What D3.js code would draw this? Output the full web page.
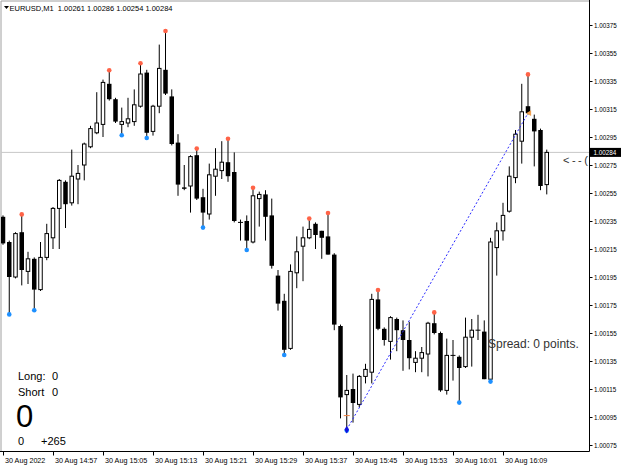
<!DOCTYPE html>
<html lang="en">
<head>
<meta charset="UTF-8">
<title>EURUSD,M1</title>
<script src="https://d3js.org/d3.v7.min.js"></script>
<style>
    body { margin: 0; background: #fff; }
    svg { display: block; font-family: "Liberation Sans", Arial, sans-serif; }
</style>
</head>
<body>
<script>

    // OHLC of the M1 bars, 30 Aug 2022 14:49 .. 16:16
    const opens = [1.00238,1.00220,1.00195,1.00227,1.00199,1.00208,1.00186,1.00209,1.00223,1.00244,
        1.00263,1.00248,1.00265,1.00275,1.00288,1.00298,1.00304,1.00333,1.00322,1.00304,
        1.00305,1.00306,1.00317,1.00341,1.00299,1.00317,1.00343,1.00324,1.00291,1.00259,
        1.00260,1.00282,1.00252,1.00240,1.00267,1.00271,1.00277,1.00270,1.00234,1.00235,
        1.00220,1.00251,1.00254,1.00239,1.00196,1.00178,1.00144,1.00198,1.00217,1.00223,
        1.00233,1.00228,1.00224,1.00211,1.00160,1.00111,1.00115,1.00104,1.00124,1.00127,
        1.00179,1.00158,1.00149,1.00165,1.00157,1.00150,1.00134,1.00137,1.00140,1.00162,
        1.00155,1.00114,1.00139,1.00138,1.00131,1.00152,1.00157,1.00156,1.00122,1.00216,
        1.00228,1.00242,1.00266,1.00292,1.00317,1.00308,1.00300,1.00261];
    const highs = [1.00239,1.00221,1.00227,1.00239,1.00213,1.00209,1.00220,1.00233,1.00245,1.00265,
        1.00264,1.00286,1.00275,1.00291,1.00303,1.00327,1.00336,1.00342,1.00323,1.00316,
        1.00323,1.00329,1.00347,1.00343,1.00318,1.00361,1.00370,1.00329,1.00297,1.00275,
        1.00282,1.00286,1.00258,1.00276,1.00287,1.00292,1.00293,1.00284,1.00236,1.00239,
        1.00258,1.00256,1.00257,1.00251,1.00200,1.00183,1.00204,1.00224,1.00231,1.00236,
        1.00234,1.00228,1.00240,1.00212,1.00161,1.00125,1.00126,1.00125,1.00133,1.00183,
        1.00185,1.00159,1.00167,1.00166,1.00164,1.00163,1.00142,1.00145,1.00163,1.00169,
        1.00156,1.00151,1.00150,1.00139,1.00166,1.00165,1.00168,1.00164,1.00223,1.00234,
        1.00248,1.00274,1.00300,1.00333,1.00339,1.00311,1.00301,1.00286];
    const lows = [1.00218,1.00169,1.00194,1.00189,1.00190,1.00172,1.00185,1.00207,1.00215,1.00215,
        1.00230,1.00246,1.00247,1.00264,1.00287,1.00297,1.00295,1.00321,1.00305,1.00297,
        1.00302,1.00303,1.00316,1.00295,1.00296,1.00312,1.00325,1.00289,1.00253,1.00257,
        1.00241,1.00250,1.00231,1.00236,1.00253,1.00265,1.00263,1.00234,1.00221,1.00215,
        1.00219,1.00231,1.00221,1.00201,1.00171,1.00140,1.00143,1.00187,1.00192,1.00222,
        1.00215,1.00208,1.00211,1.00157,1.00094,1.00086,1.00091,1.00102,1.00119,1.00119,
        1.00157,1.00146,1.00136,1.00142,1.00128,1.00129,1.00127,1.00127,1.00124,1.00154,
        1.00113,1.00111,1.00121,1.00106,1.00130,1.00131,1.00150,1.00122,1.00121,1.00196,
        1.00221,1.00241,1.00262,1.00276,1.00311,1.00274,1.00257,1.00254];
    const closes = [1.00219,1.00195,1.00226,1.00200,1.00208,1.00186,1.00209,1.00226,1.00244,1.00264,
        1.00247,1.00267,1.00269,1.00290,1.00301,1.00305,1.00334,1.00322,1.00306,1.00306,
        1.00308,1.00318,1.00340,1.00298,1.00317,1.00344,1.00326,1.00290,1.00261,1.00258,
        1.00281,1.00251,1.00241,1.00268,1.00272,1.00277,1.00267,1.00235,1.00234,1.00221,
        1.00253,1.00254,1.00238,1.00203,1.00176,1.00143,1.00199,1.00213,1.00223,1.00229,
        1.00225,1.00223,1.00211,1.00161,1.00109,1.00114,1.00105,1.00124,1.00129,1.00179,
        1.00158,1.00150,1.00166,1.00157,1.00150,1.00137,1.00137,1.00141,1.00162,1.00155,
        1.00114,1.00139,1.00139,1.00130,1.00152,1.00157,1.00157,1.00122,1.00220,1.00228,
        1.00239,1.00267,1.00297,1.00313,1.00312,1.00299,1.00260,1.00284];

    // fractal markers (bar indexes)
    const fractalUp = [3, 17, 22, 26, 31, 36, 40, 49, 52, 60, 69, 84];
    const fractalDown = [1, 5, 19, 23, 32, 39, 45, 55, 73, 78];

    // trade: open at bar 55, closed at bar 84
    const tradeBars = [55, 84];
    const tradePrices = [1.00086, 1.00312];
    const tradeStop = 1.00096;

    const priceTicks = [1.00075, 1.00095, 1.00115, 1.00135, 1.00155, 1.00175, 1.00195, 1.00215,
        1.00235, 1.00255, 1.00275, 1.00295, 1.00315, 1.00335, 1.00355, 1.00375];
    const timeTickBars = [0, 8, 16, 24, 32, 40, 48, 56, 64, 72, 80];
    const timeTickLabels = ["30 Aug 2022", "30 Aug 14:57", "30 Aug 15:05", "30 Aug 15:13", "30 Aug 15:21",
        "30 Aug 15:29", "30 Aug 15:37", "30 Aug 15:45", "30 Aug 15:53", "30 Aug 16:01", "30 Aug 16:09"];

    const bid = 1.00284;

    let width = 625;
    let height = 469;
    let plotRight = 589.5;
    let plotBottom = 451.5;

    let svg = d3.select("body").append("svg")
        .attr("width", width)
        .attr("height", height);

    svg.append("rect").attr("width", width).attr("height", height).attr("fill", "#fff");

    let x = d3.scaleLinear().domain([0, opens.length - 1]).range([3, 3 + 6.25 * (opens.length - 1)]);
    let y = d3.scaleLinear().domain([1.00075, 1.00375]).range([445, 25]);

    let defs = svg.append("defs");
    defs.append("clipPath").attr("id", "plot")
        .append("rect").attr("x", 1).attr("y", 1).attr("width", plotRight - 1).attr("height", plotBottom - 1);

    // window border
    svg.append("path")
        .attr("d", `M1,${plotBottom} V1 H${plotRight}`)
        .attr("fill", "none")
        .attr("stroke", "#a0a0a0");

    let plot = svg.append("g").attr("clip-path", "url(#plot)");

    // bid line
    plot.append("line")
        .attr("x1", 0).attr("x2", plotRight)
        .attr("y1", y(bid)).attr("y2", y(bid))
        .attr("stroke", "#c8c8c8");

    let bars = d3.range(opens.length);

    // wicks
    plot.append("g")
        .selectAll("line")
        .data(bars)
        .enter()
        .append("line")
        .attr("x1", i => x(i)).attr("x2", i => x(i))
        .attr("y1", i => y(highs[i])).attr("y2", i => y(lows[i]))
        .attr("stroke", "#000")
        .attr("stroke-width", 1);

    // bodies
    plot.append("g")
        .selectAll("rect")
        .data(bars.filter(i => opens[i] !== closes[i]))
        .enter()
        .append("rect")
        .attr("x", i => closes[i] > opens[i] ? x(i) - 1.75 : x(i) - 2.25)
        .attr("width", i => closes[i] > opens[i] ? 3.5 : 4.5)
        .attr("y", i => y(Math.max(opens[i], closes[i])))
        .attr("height", i => Math.max(1, Math.abs(y(opens[i]) - y(closes[i]))))
        .attr("fill", i => closes[i] > opens[i] ? "#fff" : "#000")
        .attr("stroke", i => closes[i] > opens[i] ? "#000" : "none")
        .attr("stroke-width", 1);

    // doji
    plot.append("g")
        .selectAll("line")
        .data(bars.filter(i => opens[i] === closes[i]))
        .enter()
        .append("line")
        .attr("x1", i => x(i) - 2.5).attr("x2", i => x(i) + 2.5)
        .attr("y1", i => y(opens[i])).attr("y2", i => y(opens[i]))
        .attr("stroke", "#000");

    // fractals
    plot.append("g")
        .selectAll("circle")
        .data(fractalUp)
        .enter()
        .append("circle")
        .attr("cx", i => x(i))
        .attr("cy", i => y(highs[i]) - 1)
        .attr("r", 2.3)
        .attr("fill", "#ff6347");

    plot.append("g")
        .selectAll("circle")
        .data(fractalDown)
        .enter()
        .append("circle")
        .attr("cx", i => x(i))
        .attr("cy", i => y(lows[i]) + 1)
        .attr("r", 2.3)
        .attr("fill", "#1e90ff");

    // trade line
    plot.append("line")
        .attr("x1", x(tradeBars[0])).attr("y1", y(tradePrices[0]))
        .attr("x2", x(tradeBars[1])).attr("y2", y(tradePrices[1]))
        .attr("stroke", "#2b2bff")
        .attr("stroke-width", 1)
        .attr("stroke-dasharray", "2,2");

    plot.append("line")
        .attr("x1", x(tradeBars[0]) - 3).attr("x2", x(tradeBars[0]) + 3)
        .attr("y1", y(tradeStop)).attr("y2", y(tradeStop))
        .attr("stroke", "#f08040");

    plot.append("path")
        .attr("d", d3.symbol(d3.symbolDiamond, 18)())
        .attr("transform", `translate(${x(tradeBars[0])},${y(tradePrices[0])})`)
        .attr("fill", "#1010e0");

    plot.append("path")
        .attr("d", d3.symbol(d3.symbolTriangle, 14)())
        .attr("transform", `translate(${x(tradeBars[1]) + 1.5},${y(tradePrices[1])}) rotate(-90)`)
        .attr("fill", "#f0a050");

    // texts inside the chart
    plot.append("text")
        .attr("x", 563).attr("y", y(bid) + 11.5)
        .attr("font-size", "11px")
        .attr("letter-spacing", "2.5px")
        .attr("fill", "#333")
        .text("<--(");

    svg.append("text")
        .attr("x", 488).attr("y", 348)
        .attr("font-size", "12px")
        .attr("fill", "#333")
        .text("Spread: 0 points.");

    let info = svg.append("g").attr("fill", "#000");
    info.append("text").attr("x", 18).attr("y", 380).attr("font-size", "11px").text("Long:");
    info.append("text").attr("x", 52).attr("y", 380).attr("font-size", "11px").text("0");
    info.append("text").attr("x", 18).attr("y", 396).attr("font-size", "11px").text("Short");
    info.append("text").attr("x", 52).attr("y", 396).attr("font-size", "11px").text("0");
    info.append("text").attr("x", 16).attr("y", 427).attr("font-size", "31px").text("0");
    info.append("text").attr("x", 18).attr("y", 445).attr("font-size", "11px").text("0");
    info.append("text").attr("x", 41).attr("y", 445).attr("font-size", "11px").text("+265");

    // header
    svg.append("path").attr("d", "M4,6 H9 L6.5,9 Z").attr("fill", "#000");
    svg.append("text")
        .attr("x", 9.5).attr("y", 10.5)
        .attr("font-size", "7.5px")
        .attr("fill", "#000")
        .attr("xml:space", "preserve")
        .text("EURUSD,M1  1.00261 1.00286 1.00254 1.00284");

    // price axis
    let yAxis = svg.append("g")
        .attr("transform", `translate(${plotRight},0)`)
        .call(d3.axisRight(y).tickValues(priceTicks).tickSize(3).tickPadding(1.5).tickFormat(d3.format(".5f")));
    yAxis.select(".domain").remove();
    yAxis.selectAll("text").attr("font-size", "6.3px").attr("font-family", "Liberation Sans, Arial, sans-serif").attr("fill", "#000");

    // time axis
    let xAxis = svg.append("g")
        .attr("transform", `translate(0,${plotBottom})`)
        .call(d3.axisBottom(x).tickValues(timeTickBars).tickSize(4).tickPadding(2.5)
            .tickFormat((d, i) => timeTickLabels[i]));
    xAxis.select(".domain").remove();
    xAxis.selectAll("text")
        .attr("text-anchor", "start")
        .attr("dx", "1.5")
        .attr("font-size", "7.2px")
        .attr("font-family", "Liberation Sans, Arial, sans-serif")
        .attr("fill", "#000");

    // axis frame
    svg.append("path")
        .attr("d", `M0,${plotBottom} H${plotRight} V0`)
        .attr("fill", "none")
        .attr("stroke", "#000");

    // bid label
    svg.append("rect")
        .attr("x", plotRight + 0.5).attr("y", y(bid) - 4.5)
        .attr("width", 31).attr("height", 9)
        .attr("fill", "#000");
    svg.append("text")
        .attr("x", plotRight + 4).attr("y", y(bid))
        .attr("dy", "0.35em")
        .attr("font-size", "6.3px")
        .attr("fill", "#fff")
        .text(d3.format(".5f")(bid));

</script>
</body>
</html>
